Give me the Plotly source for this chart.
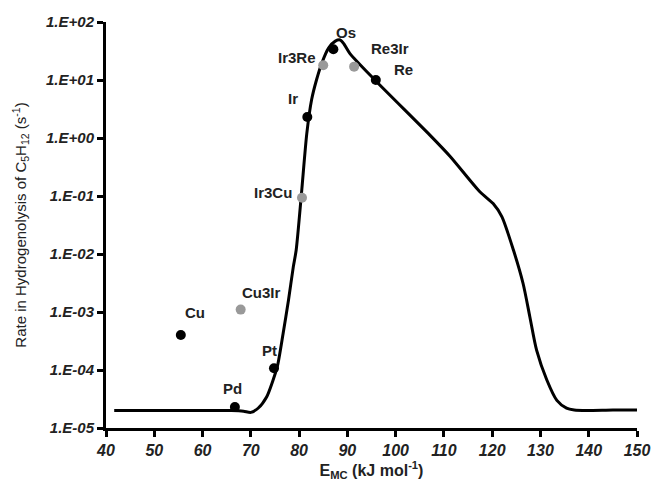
import math
import plotly.graph_objects as go

# Volcano curve (E_MC in kJ/mol, rate in s^-1)
curve_x = [41.7, 50, 60, 66, 68.5, 70, 71.5, 73.3, 74.5, 75.5, 76.7, 77.8, 78.8, 79.4,
           80.5, 81.6, 82.6, 83.6, 84.7, 86.1, 87.5, 88.5, 89.3, 90.5, 95.7, 107.1,
           111.3, 117.5, 120.2, 122.0, 124.4, 126.4, 127.8, 129.2, 131.3, 133.4,
           135.4, 137, 139.6, 145, 150]
curve_y = [2.0e-5, 2.0e-5, 2.0e-5, 2.0e-5, 1.95e-5, 1.86e-5, 2.19e-5, 3.47e-5, 6.3e-5,
           1.15e-4, 4.3e-4, 1.6e-3, 6.0e-3, 1.17e-2, 0.112, 1.2, 4.6, 10, 19.5, 35.5,
           46.8, 49, 41.7, 28.8, 10, 1.12, 0.48, 0.117, 0.074, 0.044, 0.0117, 3.1e-3,
           8.3e-4, 2.2e-4, 6.8e-5, 3.0e-5, 2.2e-5, 2.04e-5, 2.0e-5, 2.04e-5, 2.04e-5]

# Pure metals (black)
metal_names = ["Cu", "Pd", "Pt", "Ir", "Os", "Re"]
metal_x = [55.5, 66.7, 74.8, 81.7, 87.1, 95.9]
metal_y = [4.0e-4, 2.3e-5, 1.07e-4, 2.3, 34, 10]
metal_dx = [14, -2, -4, -14, 13, 28]
metal_dy = [23, 19, 18, 19, 17, 11]

# Alloys (grey)
alloy_names = ["Cu3Ir", "Ir3Cu", "Ir3Re", "Re3Ir"]
alloy_x = [67.9, 80.6, 85.0, 91.4]
alloy_y = [1.1e-3, 0.093, 18, 17]
alloy_dx = [21, -29, -26, 36]
alloy_dy = [17, 5, 8, 18]

x_ticks = [40, 50, 60, 70, 80, 90, 100, 110, 120, 130, 140, 150]
y_ticks = [1e-5, 1e-4, 1e-3, 1e-2, 1e-1, 1e0, 1e1, 1e2]
y_ticktext = ["1.E-05", "1.E-04", "1.E-03", "1.E-02", "1.E-01", "1.E+00", "1.E+01", "1.E+02"]

FONT = "Liberation Sans, Arial, Helvetica, sans-serif"

fig = go.Figure()
fig.add_trace(go.Scatter(x=curve_x, y=curve_y, mode="lines",
                         line=dict(color="black", width=3, shape="spline", smoothing=0.7),
                         hoverinfo="skip", showlegend=False))
fig.add_trace(go.Scatter(x=metal_x, y=metal_y, mode="markers", text=metal_names,
                         marker=dict(color="black", size=10), showlegend=False))
fig.add_trace(go.Scatter(x=alloy_x, y=alloy_y, mode="markers", text=alloy_names,
                         marker=dict(color="#999999", size=10), showlegend=False))

for names, xs, ys, dxs, dys in [(metal_names, metal_x, metal_y, metal_dx, metal_dy),
                                 (alloy_names, alloy_x, alloy_y, alloy_dx, alloy_dy)]:
    for n, xv, yv, dx, dy in zip(names, xs, ys, dxs, dys):
        fig.add_annotation(x=xv, y=math.log10(yv), text=n, showarrow=False,
                           xshift=dx, yshift=dy,
                           font=dict(family=FONT, size=15, color="#222222", weight="bold"))

fig.update_layout(
    width=652, height=483,
    margin=dict(l=106, r=15, t=22, b=55),
    plot_bgcolor="white", paper_bgcolor="white",
    font=dict(family=FONT, color="#222222"),
    xaxis=dict(range=[40, 150], tickvals=x_ticks, showgrid=False, zeroline=False,
               automargin=False,
               showline=True, linecolor="black", linewidth=3,
               ticks="outside", ticklen=6, tickwidth=3, tickcolor="black",
               tickfont=dict(family=FONT, size=16, color="#222222", weight="bold", style="italic"),
               title=dict(text="E<sub>MC</sub> (kJ mol<sup>-1</sup>)", standoff=6,
                          font=dict(family=FONT, size=16, color="#222222", weight="bold"))),
    yaxis=dict(type="log", range=[-5, 2], tickvals=y_ticks, ticktext=y_ticktext,
               showgrid=False, zeroline=False, automargin=False,
               showline=True, linecolor="black", linewidth=3,
               ticks="outside", ticklen=6, tickwidth=3, tickcolor="black",
               tickfont=dict(family=FONT, size=15, color="#222222", weight="bold", style="italic"),
               title=dict(text="Rate in Hydrogenolysis of C<sub>5</sub>H<sub>12</sub> (s<sup>-1</sup>)",
                          standoff=16, font=dict(family=FONT, size=15, color="#222222"))),
)

fig.write_html("out.html", config={"displayModeBar": False},
               post_script="document.body.style.margin='0';")
